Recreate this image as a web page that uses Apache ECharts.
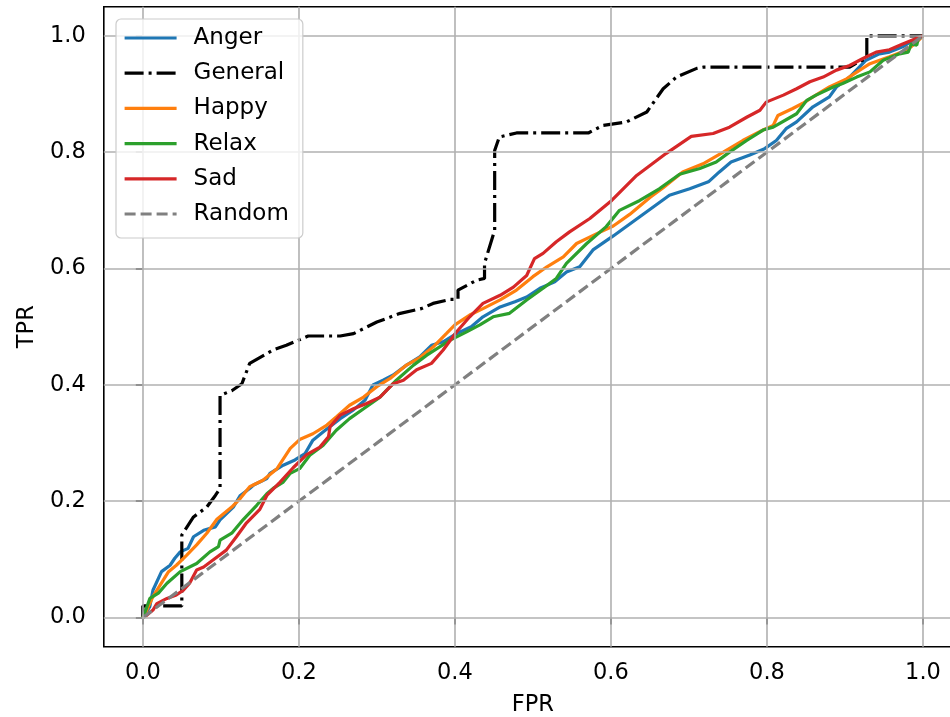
<!DOCTYPE html>
<html>
<head>
<meta charset="utf-8">
<script src="https://cdn.jsdelivr.net/npm/echarts@6/dist/echarts.min.js"></script>
<style>html,body{margin:0;padding:0;background:#fff;}#chart{width:950px;height:717px;}</style>
</head>
<body>
<div id="chart"></div>
<script>
const seriesNames = ['Anger', 'General', 'Happy', 'Relax', 'Sad', 'Random'];
const xTicks = [0, 0.2, 0.4, 0.6, 0.8, 1.0];
const yTicks = [0, 0.2, 0.4, 0.6, 0.8, 1.0];

const anger = [[0,0],[0.009,0.019],[0.013,0.047],[0.024,0.079],[0.035,0.09],[0.041,0.102],[0.048,0.113],[0.058,0.119],[0.065,0.139],[0.078,0.15],[0.093,0.156],[0.099,0.168],[0.116,0.19],[0.125,0.21],[0.137,0.222],[0.142,0.228],[0.159,0.239],[0.163,0.248],[0.18,0.262],[0.195,0.271],[0.208,0.282],[0.218,0.305],[0.231,0.319],[0.253,0.342],[0.27,0.357],[0.285,0.374],[0.295,0.4],[0.308,0.408],[0.321,0.417],[0.338,0.434],[0.355,0.448],[0.37,0.468],[0.385,0.474],[0.402,0.488],[0.421,0.5],[0.436,0.517],[0.458,0.534],[0.477,0.543],[0.492,0.551],[0.509,0.566],[0.528,0.577],[0.543,0.594],[0.56,0.603],[0.577,0.632],[0.603,0.656],[0.637,0.689],[0.675,0.726],[0.701,0.737],[0.725,0.749],[0.739,0.766],[0.754,0.783],[0.778,0.795],[0.797,0.806],[0.812,0.82],[0.825,0.841],[0.838,0.852],[0.859,0.878],[0.88,0.895],[0.889,0.912],[0.906,0.929],[0.927,0.958],[0.944,0.969],[0.957,0.972],[0.974,0.981],[0.987,0.992],[1,1]];

const general = [[0,0],[0,0.02],[0.05,0.02],[0.05,0.142],[0.065,0.173],[0.082,0.19],[0.093,0.21],[0.099,0.222],[0.099,0.382],[0.114,0.39],[0.127,0.402],[0.137,0.437],[0.167,0.46],[0.184,0.468],[0.212,0.484],[0.253,0.484],[0.27,0.488],[0.3,0.508],[0.33,0.523],[0.357,0.531],[0.372,0.54],[0.394,0.547],[0.404,0.547],[0.404,0.563],[0.428,0.58],[0.438,0.583],[0.438,0.609],[0.451,0.666],[0.451,0.803],[0.457,0.826],[0.479,0.833],[0.571,0.833],[0.59,0.846],[0.62,0.852],[0.646,0.869],[0.667,0.909],[0.684,0.929],[0.71,0.944],[0.718,0.946],[0.906,0.946],[0.917,0.955],[0.928,0.961],[0.928,1.0],[1.0,1.0]];

const happy = [[0,0],[0.003,0.007],[0.013,0.036],[0.026,0.064],[0.033,0.079],[0.043,0.09],[0.056,0.107],[0.069,0.125],[0.082,0.145],[0.095,0.169],[0.114,0.19],[0.125,0.205],[0.137,0.225],[0.154,0.236],[0.172,0.256],[0.189,0.291],[0.201,0.306],[0.218,0.316],[0.236,0.331],[0.248,0.345],[0.265,0.365],[0.283,0.379],[0.3,0.397],[0.317,0.411],[0.338,0.434],[0.355,0.447],[0.372,0.465],[0.389,0.488],[0.4,0.503],[0.419,0.52],[0.436,0.531],[0.458,0.546],[0.479,0.563],[0.5,0.586],[0.518,0.603],[0.539,0.62],[0.556,0.643],[0.582,0.66],[0.603,0.673],[0.624,0.693],[0.65,0.722],[0.667,0.739],[0.692,0.766],[0.718,0.78],[0.744,0.8],[0.769,0.82],[0.795,0.838],[0.808,0.846],[0.814,0.863],[0.833,0.875],[0.846,0.884],[0.859,0.895],[0.88,0.912],[0.902,0.926],[0.919,0.941],[0.932,0.952],[0.957,0.964],[0.979,0.975],[0.992,0.989],[1,1]];

const relax = [[0,0],[0.003,0.01],[0.009,0.033],[0.02,0.042],[0.031,0.059],[0.048,0.079],[0.069,0.093],[0.086,0.113],[0.097,0.122],[0.099,0.133],[0.114,0.145],[0.129,0.169],[0.146,0.193],[0.159,0.213],[0.167,0.222],[0.18,0.233],[0.189,0.248],[0.201,0.256],[0.214,0.279],[0.231,0.296],[0.248,0.322],[0.265,0.342],[0.283,0.359],[0.304,0.379],[0.325,0.408],[0.347,0.434],[0.364,0.451],[0.394,0.477],[0.415,0.491],[0.432,0.503],[0.449,0.517],[0.47,0.523],[0.492,0.546],[0.513,0.566],[0.53,0.583],[0.543,0.609],[0.569,0.643],[0.594,0.672],[0.611,0.7],[0.637,0.717],[0.662,0.737],[0.688,0.762],[0.714,0.772],[0.735,0.783],[0.752,0.8],[0.774,0.82],[0.795,0.838],[0.808,0.843],[0.838,0.866],[0.851,0.889],[0.863,0.898],[0.885,0.912],[0.897,0.918],[0.915,0.929],[0.932,0.938],[0.949,0.958],[0.97,0.969],[0.981,0.972],[0.985,0.986],[0.992,0.984],[0.994,0.995],[1,1]];

const sad = [[0,0],[0.005,0.004],[0.013,0.013],[0.018,0.024],[0.031,0.033],[0.043,0.039],[0.052,0.047],[0.06,0.059],[0.069,0.082],[0.078,0.087],[0.09,0.099],[0.107,0.116],[0.12,0.139],[0.133,0.163],[0.15,0.186],[0.159,0.21],[0.176,0.233],[0.193,0.258],[0.21,0.28],[0.227,0.293],[0.238,0.311],[0.24,0.328],[0.253,0.348],[0.27,0.359],[0.287,0.368],[0.304,0.379],[0.321,0.402],[0.334,0.408],[0.351,0.426],[0.37,0.437],[0.385,0.46],[0.402,0.491],[0.419,0.517],[0.436,0.54],[0.458,0.554],[0.475,0.568],[0.492,0.588],[0.502,0.617],[0.513,0.626],[0.53,0.646],[0.547,0.663],[0.573,0.686],[0.601,0.717],[0.633,0.76],[0.671,0.798],[0.703,0.827],[0.731,0.832],[0.752,0.843],[0.774,0.86],[0.791,0.872],[0.799,0.886],[0.821,0.898],[0.838,0.909],[0.855,0.921],[0.872,0.929],[0.889,0.941],[0.906,0.949],[0.923,0.961],[0.94,0.972],[0.957,0.976],[0.974,0.986],[1,1]];

const random = [[0,0],[1,1]];

const FONT = 'DejaVu Sans';
const chart = echarts.init(document.getElementById('chart'), null, {renderer: 'canvas'});

function lineSeries(name, data, color, type, z) {
  return {
    name: name, type: 'line', data: data, showSymbol: false, symbol: 'none',
    z: z, animation: false, silent: true,
    lineStyle: {color: color, width: 3.2, type: type},
    itemStyle: {color: color}
  };
}

const gridLineStyle = {color: '#b0b0b0', width: 1.6, type: 'solid'};
const gridSeries = {
  name: 'grid', type: 'line', data: [], z: 1, silent: true, animation: false,
  markLine: {
    silent: true, symbol: 'none', animation: false,
    label: {show: false},
    lineStyle: gridLineStyle,
    data: xTicks.map(v => ({xAxis: v})).concat(yTicks.map(v => ({yAxis: v})))
  }
};

const option = {
  backgroundColor: '#ffffff',
  animation: false,
  grid: {left: 103.8, right: -12, top: 6.7, bottom: 70.3, outerBoundsMode: 'none', containLabel: false, show: true, borderColor: '#000', borderWidth: 1.6, backgroundColor: 'transparent', z: 3},
  legend: {
    data: seriesNames,
    left: 116, top: 19, orient: 'vertical',
    itemWidth: 52, itemHeight: 14, itemGap: 7.2,
    padding: [5, 14, 10, 7],
    backgroundColor: 'rgba(255,255,255,0.8)',
    borderColor: '#cccccc', borderWidth: 1.2, borderRadius: 5,
    itemStyle: {opacity: 0},
    lineStyle: {width: 3.2},
    textStyle: {fontFamily: FONT, fontSize: 23, color: '#000', lineHeight: 28, padding: [0, 0, 0, 12]},
    z: 10
  },
  xAxis: {
    type: 'value', min: -0.05, max: 1.05,
    name: 'FPR', nameLocation: 'middle', nameGap: 47,
    nameTextStyle: {fontFamily: FONT, fontSize: 22.5, color: '#000'},
    axisLine: {show: false},
    axisTick: {show: true, customValues: xTicks, length: 7, lineStyle: {color: '#000', width: 1.6}},
    axisLabel: {show: true, customValues: xTicks, margin: 15, fontFamily: FONT, fontSize: 22.5, color: '#000', formatter: v => v.toFixed(1)},
    splitLine: {show: false}
  },
  yAxis: {
    type: 'value', min: -0.05, max: 1.05,
    name: 'TPR', nameLocation: 'middle', nameGap: 65,
    nameTextStyle: {fontFamily: FONT, fontSize: 22.5, color: '#000'},
    axisLine: {show: false},
    axisTick: {show: true, customValues: yTicks, length: 7, lineStyle: {color: '#000', width: 1.6}},
    axisLabel: {show: true, customValues: yTicks, margin: 18, fontFamily: FONT, fontSize: 22.5, color: '#000', formatter: v => v.toFixed(1)},
    splitLine: {show: false}
  },
  series: [
    gridSeries,
    lineSeries('Anger', anger, '#1f77b4', 'solid', 2),
    lineSeries('General', general, '#000000', [19, 5, 3, 5], 2),
    lineSeries('Happy', happy, '#ff7f0e', 'solid', 2),
    lineSeries('Relax', relax, '#2ca02c', 'solid', 2),
    lineSeries('Sad', sad, '#d62728', 'solid', 2),
    lineSeries('Random', random, '#808080', [11, 5], 2)
  ]
};
chart.setOption(option);
</script>
</body>
</html>
